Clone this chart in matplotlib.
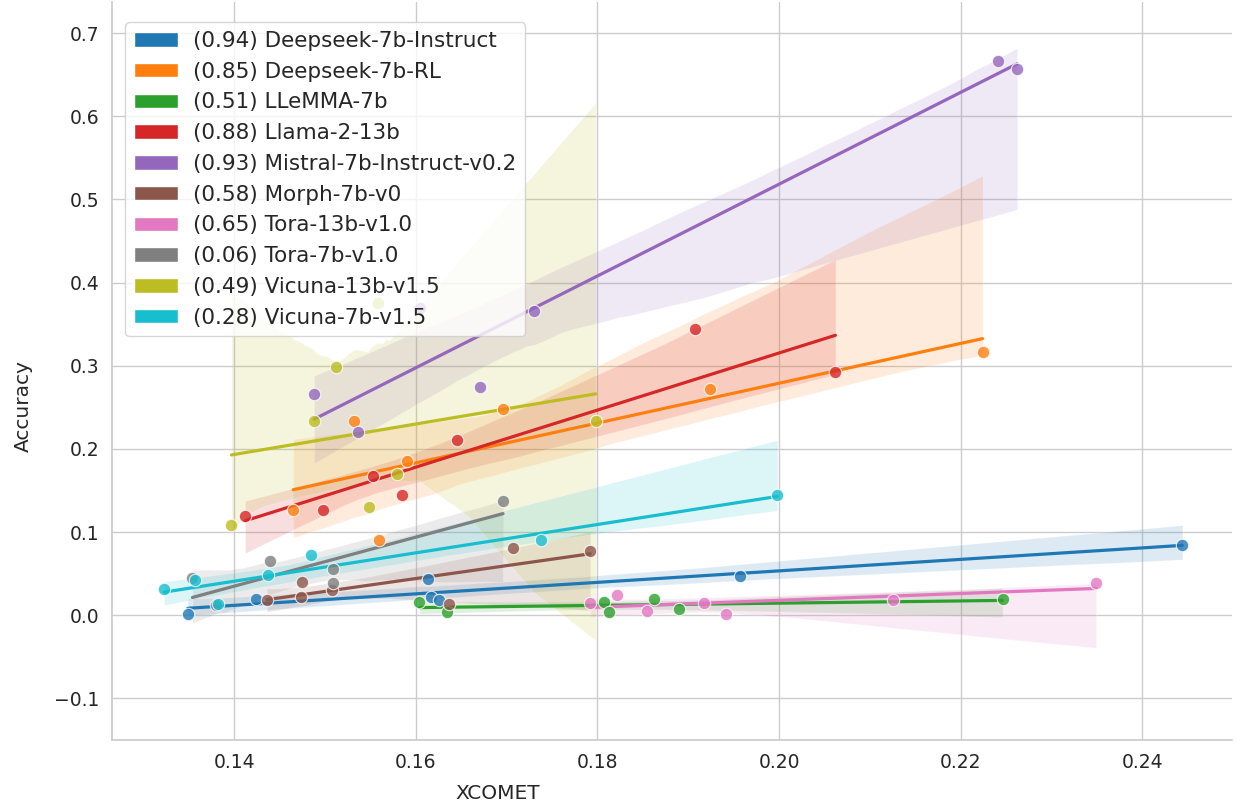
import numpy as np
import matplotlib
matplotlib.use("Agg")
import matplotlib.pyplot as plt
from matplotlib.patches import Patch
import seaborn as sns

# 模型名称与图例中的相关系数
models = [
    "Deepseek-7b-Instruct", "Deepseek-7b-RL", "LLeMMA-7b", "Llama-2-13b",
    "Mistral-7b-Instruct-v0.2", "Morph-7b-v0", "Tora-13b-v1.0", "Tora-7b-v1.0",
    "Vicuna-13b-v1.5", "Vicuna-7b-v1.5",
]
corr = [0.94, 0.85, 0.51, 0.88, 0.93, 0.58, 0.65, 0.06, 0.49, 0.28]

# 每个模型的 (XCOMET, Accuracy) 数据点
xcomet = {
    "Deepseek-7b-Instruct": [0.1349, 0.1424, 0.1613, 0.1617, 0.1625, 0.1957, 0.2444],
    "Deepseek-7b-RL": [0.1465, 0.1532, 0.1560, 0.1590, 0.1696, 0.1924, 0.2224],
    "LLeMMA-7b": [0.1604, 0.1634, 0.1807, 0.1813, 0.1862, 0.1890, 0.2246],
    "Llama-2-13b": [0.1412, 0.1498, 0.1553, 0.1585, 0.1645, 0.1907, 0.2062],
    "Mistral-7b-Instruct-v0.2": [0.1488, 0.1536, 0.1605, 0.1671, 0.1730, 0.2241, 0.2262],
    "Morph-7b-v0": [0.1436, 0.1474, 0.1475, 0.1508, 0.1636, 0.1707, 0.1792],
    "Tora-13b-v1.0": [0.1792, 0.1821, 0.1854, 0.1917, 0.1941, 0.2125, 0.2349],
    "Tora-7b-v1.0": [0.1354, 0.1380, 0.1439, 0.1509, 0.1509, 0.1696],
    "Vicuna-13b-v1.5": [0.1397, 0.1488, 0.1512, 0.1548, 0.1558, 0.1579, 0.1798],
    "Vicuna-7b-v1.5": [0.1323, 0.1357, 0.1382, 0.1437, 0.1485, 0.1738, 0.1998],
}
accuracy = {
    "Deepseek-7b-Instruct": [0.002, 0.020, 0.043, 0.022, 0.018, 0.047, 0.085],
    "Deepseek-7b-RL": [0.126, 0.233, 0.091, 0.185, 0.248, 0.272, 0.317],
    "LLeMMA-7b": [0.016, 0.004, 0.016, 0.004, 0.019, 0.008, 0.019],
    "Llama-2-13b": [0.119, 0.127, 0.167, 0.144, 0.211, 0.344, 0.293],
    "Mistral-7b-Instruct-v0.2": [0.266, 0.220, 0.370, 0.274, 0.366, 0.666, 0.657],
    "Morph-7b-v0": [0.018, 0.022, 0.040, 0.030, 0.014, 0.081, 0.077],
    "Tora-13b-v1.0": [0.015, 0.024, 0.005, 0.015, 0.001, 0.018, 0.039],
    "Tora-7b-v1.0": [0.045, 0.012, 0.065, 0.055, 0.039, 0.137],
    "Vicuna-13b-v1.5": [0.108, 0.234, 0.299, 0.130, 0.376, 0.170, 0.234],
    "Vicuna-7b-v1.5": [0.031, 0.042, 0.014, 0.048, 0.072, 0.091, 0.145],
}

sns.set_theme(style="whitegrid")
plt.rcParams["font.family"] = ["DejaVu Sans"]

colors = sns.color_palette("tab10", len(models))

fig = plt.figure(figsize=(12.36, 8.06), dpi=100)
ax = fig.add_axes([0.091, 0.082, 0.906, 0.916])

for i, m in enumerate(models):
    x = np.array(xcomet[m])
    y = np.array(accuracy[m])
    sns.regplot(
        x=x, y=y, ax=ax, color=colors[i], scatter=False, seed=0,
        line_kws={"linewidth": 2.3},
    )
    ax.scatter(x, y, s=80, color=colors[i], alpha=0.8,
               edgecolor="white", linewidth=0.8, zorder=3)

ax.set_xlim(0.1266, 0.2499)
ax.set_ylim(-0.15, 0.738)
ax.set_xticks([0.14, 0.16, 0.18, 0.20, 0.22, 0.24])
ax.set_xticklabels(["0.14", "0.16", "0.18", "0.20", "0.22", "0.24"])
ax.set_yticks([-0.1, 0.0, 0.1, 0.2, 0.3, 0.4, 0.5, 0.6, 0.7])
ax.tick_params(labelsize=13.5)
ax.set_xlabel("XCOMET", fontsize=14.5)
ax.set_ylabel("Accuracy", fontsize=14.5)
ax.xaxis.set_label_coords(0.344, -0.060)
ax.yaxis.set_label_coords(-0.071, 0.4526)
sns.despine(ax=ax)

handles = [Patch(facecolor=colors[i], edgecolor="white",
                 label=f"({corr[i]:.2f}) {m}") for i, m in enumerate(models)]
ax.legend(handles=handles, loc="upper left", bbox_to_anchor=(0.0116, 0.972),
          borderaxespad=0, fontsize=15.5, labelspacing=0.5,
          handlelength=2.05, handleheight=0.65, handletextpad=0.7)

fig.savefig("out.png", dpi=100)
